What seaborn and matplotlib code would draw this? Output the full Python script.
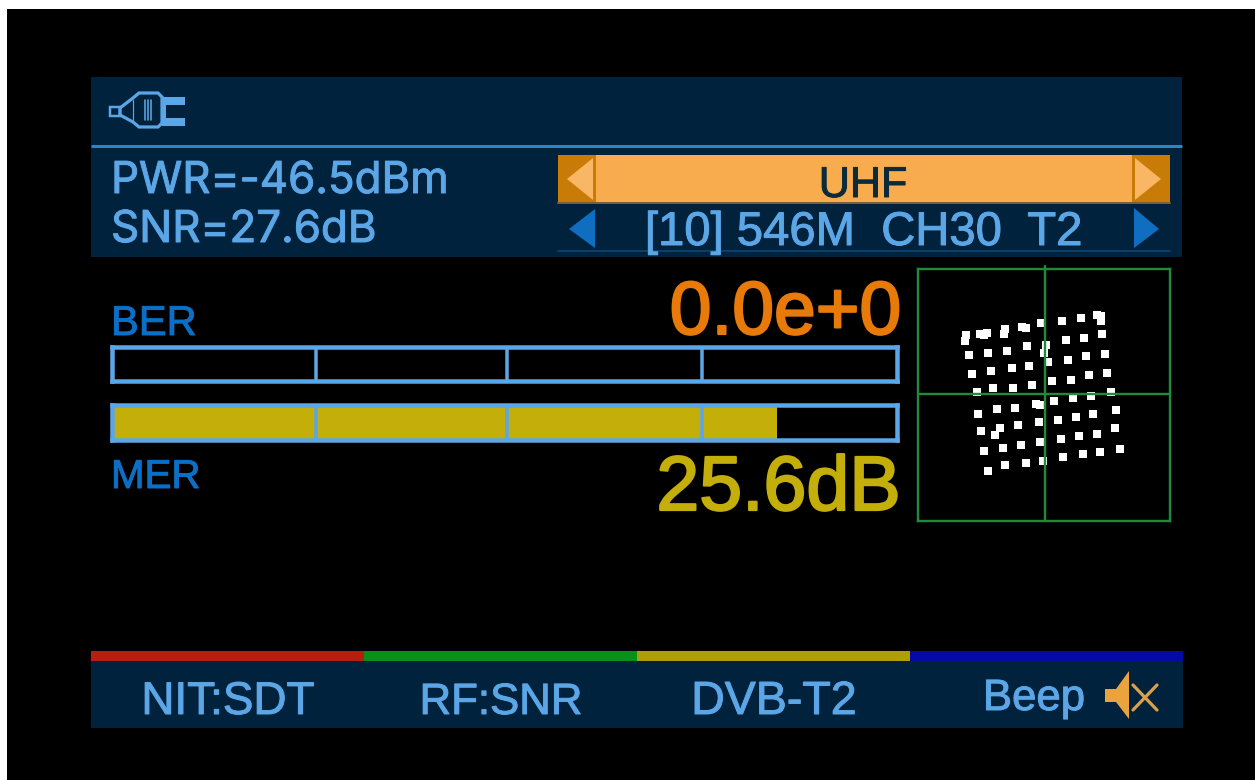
import matplotlib
matplotlib.use('Agg')
import matplotlib.pyplot as plt
import matplotlib.patheffects as pe
from matplotlib.patches import Rectangle, Polygon
import seaborn as sns

W, H = 1255, 780

# readings shown on the meter
pwr_label = 'PWR=-46.5dBm'
snr_label = 'SNR=27.6dB'
band_label = 'UHF'
channel_label = '[10] 546M  CH30  T2'
ber_label = '0.0e+0'
mer_label = '25.6dB'

# bar levels, percent of the bar
ber_level = 0
mer_level = 84.7
bar_divisions = [26.0, 50.3, 75.1]

# softkeys
softkey_labels = ['NIT:SDT', 'RF:SNR', 'DVB-T2', 'Beep']
softkey_colors = ['#b81d0d', '#0a8f18', '#ad9f05', '#0509a8']

# constellation points
const_i = [-235, -238, -193, -183, -174, -120, -122, -68, -57, -10, -227, -171, -113, -54, 4, -2,
           -218, -160, -99, -46, 10, -203, -154, -95, -39,
           51, 107, 157, 168, 168, 62, 117, 170, 70, 124, 179, 22, 77, 132, 187, 197,
           27, 84, 137, 213, 145, 94, 39, -17, -79, -134, -191, -148, -199, -143, -89, -26, -13,
           211, 157, 102, 47, -13, -70, -124, -182, 225, 166, 113, 54, -4, -57, -119, -171]
const_q = [176, 159, 178, 175, 182, 195, 180, 200, 198, 211, 116, 123, 129, 142, 146, 123,
           59, 68, 78, 83, 94, 6, 16, 18, 27,
           217, 228, 237, 234, 219, 160, 167, 180, 102, 112, 120, 37, 42, 55, 61, 6,
           -20, -11, -6, -48, -60, -69, -77, -84, -94, -102, -110, -122, -59, -45, -42, -30, -32,
           -101, -119, -125, -136, -144, -154, -161, -172, -166, -173, -181, -190, -201, -207, -212, -230]

NAVY = '#01223d'
BLUE = '#5ba6e6'
DEEP_BLUE = '#0a6fc6'
ORANGE = '#e87a0a'
YELLOW = '#c4ae0a'
GREEN = '#1f8a3c'
PX = 72 / 100  # one pixel in points


def box_axes(fig, x0, y0, x1, y1):
    return fig.add_axes([x0 / W, 1 - y1 / H, (x1 - x0) / W, (y1 - y0) / H])


def label(ax, x, y, s, color, size, width=0.7, **kw):
    # the meter font is heavier than the regular weight, so thicken it a little
    ax.text(x, y, s, color=color, fontsize=size, va='baseline',
            path_effects=[pe.withStroke(linewidth=width, foreground=color)], **kw)


def draw_bar(fig, y0, y1, level):
    ax = box_axes(fig, 112, y0, 897, y1)
    ax.set_facecolor('black')
    sns.barplot(x=[level], y=['level'], orient='h', width=1, color=YELLOW, saturation=1, ax=ax)
    ax.set_xlim(0, 100)
    ax.set_xlabel('')
    ax.set_ylabel('')
    ax.set_xticks([])
    ax.set_yticks([])
    ax.grid(False)
    for p in ax.patches:
        p.set_linewidth(0)
    for d in bar_divisions:
        ax.axvline(d, color=BLUE, lw=3.5 * PX)
    for s in ax.spines.values():
        s.set_visible(True)
        s.set_color(BLUE)
        s.set_linewidth(4.5 * PX)


sns.set_theme(style='dark')
plt.rcParams['font.family'] = ['Liberation Sans', 'DejaVu Sans']

fig = plt.figure(figsize=(W / 100, H / 100), dpi=100, facecolor='white')

# whole-screen axes in pixel coordinates for panels, icons and labels
bg = fig.add_axes([0, 0, 1, 1])
bg.set_xlim(0, W)
bg.set_ylim(H, 0)
bg.set_axis_off()
bg.add_patch(Rectangle((7, 9), W - 7, H - 9, color='black', lw=0))

# top and bottom panels
bg.add_patch(Rectangle((91, 77), 1091, 180, color=NAVY, lw=0))
bg.add_patch(Rectangle((91, 661), 1092, 67, color=NAVY, lw=0))
bg.plot([91, 1182], [146, 146], color='#2a86c4', lw=3 * PX, solid_capstyle='butt')

# connector icon
plug = [(120, 108), (133, 98), (139, 93), (158, 93), (162, 97), (162, 123), (158, 127),
        (139, 127), (133, 122), (120, 115)]
bg.add_patch(Polygon(plug, closed=True, fc='none', ec=BLUE, lw=3.2 * PX))
bg.add_patch(Rectangle((110, 107), 10, 9, fc='none', ec=BLUE, lw=2.5 * PX))
bg.add_patch(Rectangle((162, 97), 23, 8, color=BLUE, lw=0))
bg.add_patch(Rectangle((162, 118), 23, 8, color=BLUE, lw=0))
bg.add_patch(Rectangle((162, 97), 4, 29, color=BLUE, lw=0))
for x, lw in [(133, 1.2), (145, 1.6), (148, 1.6), (151, 1.6)]:
    bg.plot([x, x], [100, 120], color=BLUE, lw=lw * PX)

# PWR / SNR
label(bg, 111, 193, pwr_label, BLUE, 31.6, family='Inter')
label(bg, 111, 242, snr_label, BLUE, 31.6, family='Inter')

# band selector
bg.add_patch(Rectangle((558, 155), 612, 48, color='#c97b08', lw=0))
bg.add_patch(Rectangle((596, 155), 536, 47, color='#f8ac4d', lw=0))
bg.add_patch(Polygon([(567, 179), (593, 158), (593, 200)], color='#f9b766', lw=0))
bg.add_patch(Polygon([(1161, 179), (1135, 158), (1135, 200)], color='#f9b766', lw=0))
bg.plot([558, 1170], [203, 203], color='#7a6030', lw=2 * PX)
label(bg, 863, 197, band_label, '#0b2a3a', 31, ha='center')

# channel row
bg.add_patch(Polygon([(569, 229), (595, 209), (595, 248)], color='#0f6ec0', lw=0))
bg.add_patch(Polygon([(1159, 229), (1134, 208), (1134, 248)], color='#0f6ec0', lw=0))
label(bg, 864, 245, channel_label, BLUE, 34, ha='center')
bg.plot([558, 1170], [251, 251], color='#0e4a78', lw=1.5 * PX)

# BER / MER labels and readouts
label(bg, 111, 335, 'BER', DEEP_BLUE, 30)
label(bg, 111, 488, 'MER', DEEP_BLUE, 29)
label(bg, 901, 334, ber_label, ORANGE, 54, width=1.6, ha='right')
label(bg, 901, 510, mer_label, YELLOW, 55.5, width=1.6, ha='right')

draw_bar(fig, 347, 381, ber_level)
draw_bar(fig, 405, 440, mer_level)

# constellation
ca = box_axes(fig, 918, 269, 1170, 521)
ca.set_facecolor('black')
sns.scatterplot(x=const_i, y=const_q, marker='s', s=26, color='white', linewidth=0, ax=ca, zorder=2)
ca.set_xlim(-380, 375)
ca.set_ylim(-381, 374)
ca.set_xticks([])
ca.set_yticks([])
ca.grid(False)
ca.axhline(0, color=GREEN, lw=2.4 * PX, zorder=3)
ca.axvline(0, ymax=1.012, color=GREEN, lw=2.4 * PX, zorder=3, clip_on=False)
for s in ca.spines.values():
    s.set_visible(True)
    s.set_color(GREEN)
    s.set_linewidth(2.4 * PX)

# softkey strip
for i, c in enumerate(softkey_colors):
    bg.add_patch(Rectangle((91 + 273 * i, 651), 273, 10, color=c, lw=0))
label(bg, 228, 714, softkey_labels[0], BLUE, 33, ha='center')
label(bg, 501, 714, softkey_labels[1], BLUE, 31.5, ha='center')
label(bg, 774, 714, softkey_labels[2], BLUE, 33.5, ha='center')
label(bg, 1034, 710, softkey_labels[3], BLUE, 31.5, ha='center')

# muted speaker icon
bg.add_patch(Polygon([(1105, 689), (1116, 689), (1129, 671), (1129, 719), (1116, 702), (1105, 702)],
                     color='#eba33e', lw=0))
bg.plot([1133, 1157], [685, 710], color='#d9a24a', lw=3.2 * PX)
bg.plot([1157, 1133], [685, 710], color='#d9a24a', lw=3.2 * PX)

fig.savefig('out.png', dpi=100, facecolor=fig.get_facecolor())
